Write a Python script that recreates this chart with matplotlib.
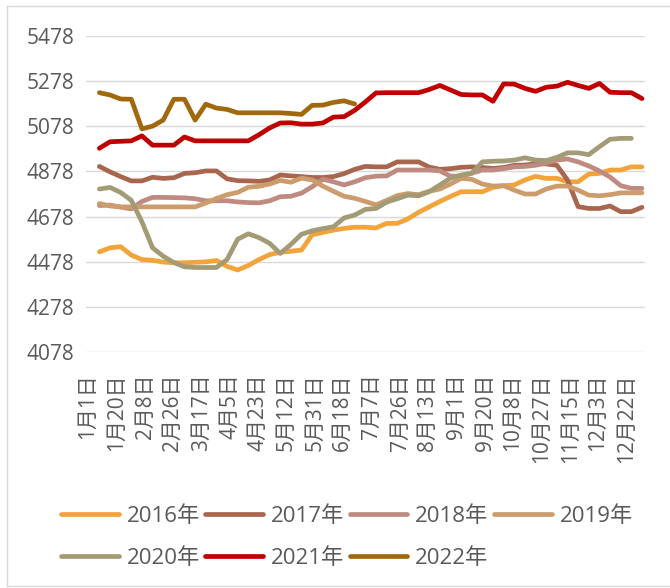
import numpy as np
import pandas as pd
import matplotlib
matplotlib.use('Agg')
import matplotlib.pyplot as plt
from matplotlib.lines import Line2D

plt.rcParams['font.family'] = ['Open Sans', 'Noto Sans CJK SC']

# weekly sample dates
week_dates = pd.date_range('2021-01-09', periods=52, freq='7D')

tick_text = ['1月1日', '1月20日', '2月8日', '2月26日', '3月17日', '4月5日', '4月23日',
             '5月12日', '5月31日', '6月18日', '7月7日', '7月26日', '8月13日', '9月1日',
             '9月20日', '10月8日', '10月27日', '11月15日', '12月3日', '12月22日']
tick_dates = ['01-01', '01-20', '02-08', '02-26', '03-17', '04-05', '04-23',
              '05-12', '05-31', '06-18', '07-07', '07-26', '08-13', '09-01',
              '09-20', '10-08', '10-27', '11-15', '12-03', '12-22']

y2016 = [4522, 4540, 4545, 4508, 4488, 4485, 4477, 4474, 4474, 4476, 4478, 4484, 4458,
         4442, 4462, 4488, 4510, 4520, 4525, 4530, 4598, 4608, 4618, 4626, 4631, 4631,
         4628, 4648, 4648, 4668, 4697, 4721, 4745, 4767, 4788, 4788, 4788, 4807, 4815,
         4818, 4840, 4856, 4847, 4847, 4832, 4832, 4866, 4869, 4884, 4884, 4898, 4898]
y2017 = [4900, 4876, 4855, 4836, 4836, 4852, 4847, 4850, 4869, 4872, 4880, 4880, 4845,
         4837, 4836, 4834, 4840, 4862, 4858, 4855, 4851, 4851, 4855, 4868, 4887, 4900,
         4898, 4898, 4920, 4920, 4920, 4897, 4887, 4890, 4896, 4898, 4895, 4891, 4895,
         4905, 4906, 4912, 4911, 4905, 4840, 4722, 4714, 4714, 4725, 4700, 4700, 4719]
y2018 = [4727, 4729, 4720, 4712, 4745, 4763, 4763, 4762, 4761, 4757, 4748, 4748, 4748,
         4743, 4740, 4739, 4748, 4766, 4768, 4782, 4810, 4843, 4832, 4818, 4832, 4850,
         4857, 4858, 4884, 4884, 4884, 4884, 4880, 4857, 4857, 4870, 4884, 4884, 4890,
         4898, 4900, 4905, 4915, 4928, 4933, 4920, 4902, 4880, 4853, 4815, 4803, 4803]
y2019 = [4736, 4725, 4721, 4721, 4721, 4721, 4721, 4721, 4721, 4721, 4738, 4758, 4775,
         4785, 4808, 4812, 4822, 4838, 4830, 4848, 4840, 4813, 4790, 4768, 4759, 4745,
         4730, 4750, 4771, 4780, 4775, 4790, 4800, 4822, 4847, 4843, 4822, 4813, 4815,
         4795, 4778, 4778, 4800, 4813, 4813, 4795, 4773, 4770, 4775, 4783, 4783, 4783]
y2020 = [4800, 4807, 4785, 4750, 4655, 4540, 4503, 4475, 4456, 4453, 4453, 4453, 4488,
         4578, 4602, 4585, 4560, 4515, 4555, 4600, 4615, 4625, 4633, 4672, 4685, 4710,
         4714, 4742, 4757, 4773, 4770, 4788, 4818, 4848, 4862, 4870, 4920, 4923, 4924,
         4928, 4938, 4928, 4926, 4940, 4960, 4960, 4952, 4987, 5020, 5024, 5024]
y2021 = [4980, 5009, 5011, 5013, 5035, 4994, 4994, 4994, 5030, 5013, 5013, 5013, 5013,
         5013, 5013, 5040, 5070, 5092, 5093, 5087, 5087, 5092, 5118, 5120, 5148, 5185,
         5225, 5226, 5226, 5226, 5226, 5240, 5258, 5238, 5218, 5216, 5216, 5188, 5265,
         5264, 5245, 5232, 5250, 5255, 5272, 5258, 5245, 5267, 5228, 5226, 5226, 5200]
y2022 = [5226, 5216, 5198, 5197, 5066, 5078, 5105, 5197, 5197, 5105, 5175, 5158, 5152,
         5137, 5137, 5137, 5137, 5137, 5134, 5130, 5170, 5171, 5183, 5190, 5176]

series = [('2016年', y2016, '#F2A33A'),
          ('2017年', y2017, '#A9664F'),
          ('2018年', y2018, '#BF8B80'),
          ('2019年', y2019, '#CC9C6C'),
          ('2020年', y2020, '#A39B75'),
          ('2021年', y2021, '#C00000'),
          ('2022年', y2022, '#A0690C')]

start = pd.Timestamp('2021-01-01')
x_all = (week_dates - start).days.values
tick_pos = (pd.to_datetime(['2021-' + d for d in tick_dates]) - start).days.values

fig = plt.figure(figsize=(6.7, 5.88), dpi=100)
ax = fig.add_axes([86 / 670, 1 - 352.3 / 588, 559 / 670, 316.6 / 588])

lines = {}
for name, vals, col in series:
    lines[name], = ax.plot(x_all[:len(vals)], vals, color=col, lw=3.4, label=name,
                           solid_capstyle='round', solid_joinstyle='round')

ax.set_xlim(-0.8, 367)
ax.set_ylim(4078, 5478)
ax.set_yticks(np.arange(4078, 5479, 200))
ax.set_xticks(tick_pos)
ax.set_xticklabels(tick_text, rotation=90, fontsize=15, color='#595959')
ax.tick_params(axis='y', length=0, pad=8.5, labelsize=15, labelcolor='#595959')
ax.tick_params(axis='x', length=0, pad=15)
ax.grid(axis='y', color='#D9D9D9', lw=1)
ax.set_axisbelow(True)
for s in ax.spines.values():
    s.set_visible(False)

# legend is filled column by column, so order so rows read 2016..2019 / 2020..2022
order = ['2016年', '2020年', '2017年', '2021年', '2018年', '2022年', '2019年']
fig.legend([lines[k] for k in order], order, loc='upper left',
           bbox_to_anchor=(61 / 670, 1 - 506 / 588), ncol=4,
           frameon=False, fontsize=16, handlelength=2.6, handletextpad=0.35,
           columnspacing=0.25, labelspacing=0.95, borderpad=0, borderaxespad=0,
           labelcolor='#595959')

# light chart border
fig.add_artist(Line2D([7 / 670, 7 / 670], [2 / 588, 1 - 6 / 588], color='#D9D9D9', lw=1))
fig.add_artist(Line2D([7 / 670, 1], [1 - 6 / 588, 1 - 6 / 588], color='#D9D9D9', lw=1))
fig.add_artist(Line2D([7 / 670, 1], [2 / 588, 2 / 588], color='#D9D9D9', lw=1))

fig.savefig('out.png', dpi=100)
